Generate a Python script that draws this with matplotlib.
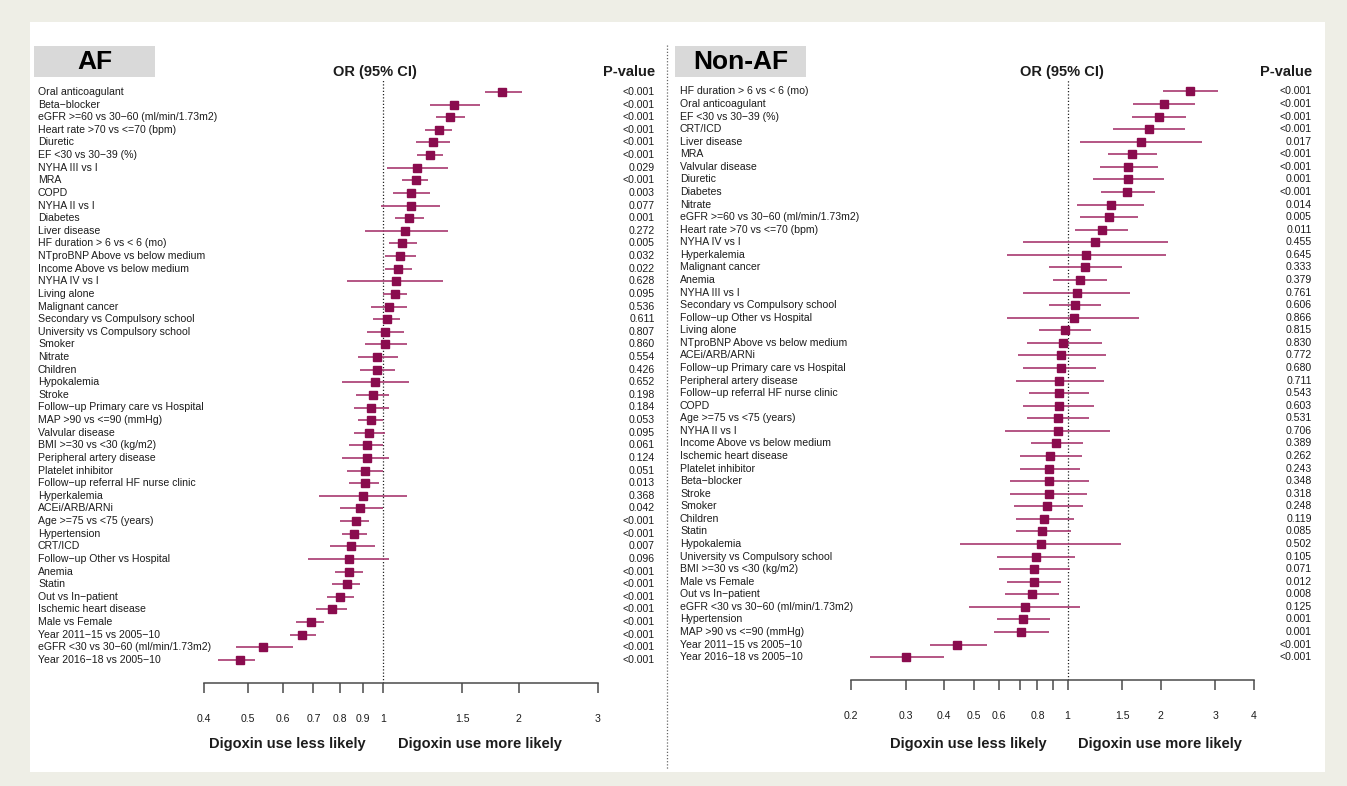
import matplotlib
matplotlib.use('Agg')
import matplotlib.pyplot as plt
import matplotlib.transforms as mtransforms
from matplotlib.patches import Rectangle
from matplotlib.lines import Line2D
from matplotlib import ticker

plt.rcParams['font.family'] = ['Liberation Sans', 'DejaVu Sans']

# ---------------- data: AF ----------------
af_labels = [
    "Oral anticoagulant", "Beta\u2212blocker", "eGFR >=60 vs 30\u221260 (ml/min/1.73m2)",
    "Heart rate >70 vs <=70 (bpm)", "Diuretic", "EF <30 vs 30\u221239 (%)", "NYHA III vs I",
    "MRA", "COPD", "NYHA II vs I", "Diabetes", "Liver disease", "HF duration > 6 vs < 6 (mo)",
    "NTproBNP Above vs below medium", "Income Above vs below medium", "NYHA IV vs I",
    "Living alone", "Malignant cancer", "Secondary vs Compulsory school",
    "University vs Compulsory school", "Smoker", "Nitrate", "Children", "Hypokalemia",
    "Stroke", "Follow\u2212up Primary care vs Hospital", "MAP >90 vs <=90 (mmHg)",
    "Valvular disease", "BMI >=30 vs <30 (kg/m2)", "Peripheral artery disease",
    "Platelet inhibitor", "Follow\u2212up referral HF nurse clinic", "Hyperkalemia",
    "ACEi/ARB/ARNi", "Age >=75 vs <75 (years)", "Hypertension", "CRT/ICD",
    "Follow\u2212up Other vs Hospital", "Anemia", "Statin", "Out vs In\u2212patient",
    "Ischemic heart disease", "Male vs Female", "Year 2011\u221215 vs 2005\u221210",
    "eGFR <30 vs 30\u221260 (ml/min/1.73m2)", "Year 2016\u221218 vs 2005\u221210",
]
af_or = [1.84, 1.44, 1.41, 1.33, 1.29, 1.27, 1.19, 1.18, 1.15, 1.15, 1.14, 1.12, 1.10,
         1.09, 1.08, 1.07, 1.06, 1.03, 1.02, 1.01, 1.01, 0.97, 0.97, 0.96, 0.95, 0.94,
         0.94, 0.93, 0.92, 0.92, 0.91, 0.91, 0.90, 0.89, 0.87, 0.86, 0.85, 0.84, 0.84,
         0.83, 0.80, 0.77, 0.69, 0.66, 0.54, 0.48]
af_lo = [1.68, 1.27, 1.31, 1.24, 1.18, 1.19, 1.02, 1.10, 1.05, 0.99, 1.06, 0.91, 1.03,
         1.01, 1.01, 0.83, 1.00, 0.94, 0.95, 0.92, 0.91, 0.88, 0.89, 0.81, 0.87, 0.86,
         0.88, 0.86, 0.84, 0.81, 0.83, 0.84, 0.72, 0.80, 0.80, 0.81, 0.76, 0.68, 0.78,
         0.77, 0.75, 0.71, 0.64, 0.62, 0.47, 0.43]
af_hi = [2.03, 1.64, 1.52, 1.42, 1.41, 1.36, 1.39, 1.26, 1.27, 1.34, 1.23, 1.39, 1.19,
         1.18, 1.16, 1.36, 1.13, 1.13, 1.09, 1.11, 1.13, 1.08, 1.06, 1.14, 1.03, 1.03,
         1.00, 1.01, 1.00, 1.03, 1.00, 0.98, 1.13, 1.00, 0.93, 0.92, 0.96, 1.03, 0.90,
         0.89, 0.86, 0.83, 0.74, 0.71, 0.63, 0.52]
af_p = ["<0.001", "<0.001", "<0.001", "<0.001", "<0.001", "<0.001", "0.029", "<0.001",
        "0.003", "0.077", "0.001", "0.272", "0.005", "0.032", "0.022", "0.628", "0.095",
        "0.536", "0.611", "0.807", "0.860", "0.554", "0.426", "0.652", "0.198", "0.184",
        "0.053", "0.095", "0.061", "0.124", "0.051", "0.013", "0.368", "0.042", "<0.001",
        "<0.001", "0.007", "0.096", "<0.001", "<0.001", "<0.001", "<0.001", "<0.001",
        "<0.001", "<0.001", "<0.001"]
af_ticks = [0.4, 0.5, 0.6, 0.7, 0.8, 0.9, 1, 1.5, 2, 3]
af_ticklabels = ["0.4", "0.5", "0.6", "0.7", "0.8", "0.9", "1", "1.5", "2", "3"]

# ---------------- data: Non-AF ----------------
naf_labels = [
    "HF duration > 6 vs < 6 (mo)", "Oral anticoagulant", "EF <30 vs 30\u221239 (%)", "CRT/ICD",
    "Liver disease", "MRA", "Valvular disease", "Diuretic", "Diabetes", "Nitrate",
    "eGFR >=60 vs 30\u221260 (ml/min/1.73m2)", "Heart rate >70 vs <=70 (bpm)", "NYHA IV vs I",
    "Hyperkalemia", "Malignant cancer", "Anemia", "NYHA III vs I",
    "Secondary vs Compulsory school", "Follow\u2212up Other vs Hospital", "Living alone",
    "NTproBNP Above vs below medium", "ACEi/ARB/ARNi", "Follow\u2212up Primary care vs Hospital",
    "Peripheral artery disease", "Follow\u2212up referral HF nurse clinic", "COPD",
    "Age >=75 vs <75 (years)", "NYHA II vs I", "Income Above vs below medium",
    "Ischemic heart disease", "Platelet inhibitor", "Beta\u2212blocker", "Stroke", "Smoker",
    "Children", "Statin", "Hypokalemia", "University vs Compulsory school",
    "BMI >=30 vs <30 (kg/m2)", "Male vs Female", "Out vs In\u2212patient",
    "eGFR <30 vs 30\u221260 (ml/min/1.73m2)", "Hypertension", "MAP >90 vs <=90 (mmHg)",
    "Year 2011\u221215 vs 2005\u221210", "Year 2016\u221218 vs 2005\u221210",
]
naf_or = [2.48, 2.05, 1.97, 1.83, 1.73, 1.61, 1.57, 1.57, 1.56, 1.38, 1.36, 1.29, 1.23,
          1.15, 1.14, 1.10, 1.07, 1.06, 1.05, 0.98, 0.97, 0.95, 0.95, 0.94, 0.94, 0.94,
          0.93, 0.93, 0.92, 0.88, 0.87, 0.87, 0.87, 0.86, 0.84, 0.83, 0.82, 0.79, 0.78,
          0.78, 0.77, 0.73, 0.72, 0.71, 0.44, 0.30]
naf_lo = [2.03, 1.63, 1.61, 1.40, 1.10, 1.35, 1.27, 1.21, 1.28, 1.07, 1.10, 1.06, 0.72,
          0.64, 0.87, 0.90, 0.72, 0.87, 0.64, 0.81, 0.74, 0.69, 0.72, 0.68, 0.75, 0.72,
          0.74, 0.63, 0.76, 0.70, 0.70, 0.65, 0.65, 0.67, 0.68, 0.68, 0.45, 0.59, 0.60,
          0.64, 0.63, 0.48, 0.59, 0.58, 0.36, 0.23]
naf_hi = [3.05, 2.58, 2.42, 2.39, 2.72, 1.95, 1.96, 2.05, 1.92, 1.77, 1.69, 1.57, 2.11,
          2.08, 1.50, 1.34, 1.59, 1.28, 1.70, 1.19, 1.29, 1.33, 1.24, 1.31, 1.17, 1.22,
          1.17, 1.37, 1.12, 1.11, 1.10, 1.17, 1.16, 1.12, 1.05, 1.03, 1.49, 1.06, 1.02,
          0.95, 0.94, 1.10, 0.88, 0.87, 0.55, 0.40]
naf_p = ["<0.001", "<0.001", "<0.001", "<0.001", "0.017", "<0.001", "<0.001", "0.001",
         "<0.001", "0.014", "0.005", "0.011", "0.455", "0.645", "0.333", "0.379", "0.761",
         "0.606", "0.866", "0.815", "0.830", "0.772", "0.680", "0.711", "0.543", "0.603",
         "0.531", "0.706", "0.389", "0.262", "0.243", "0.348", "0.318", "0.248", "0.119",
         "0.085", "0.502", "0.105", "0.071", "0.012", "0.008", "0.125", "0.001", "0.001",
         "<0.001", "<0.001"]
naf_ticks = [0.2, 0.3, 0.4, 0.5, 0.6, 0.7, 0.8, 0.9, 1, 1.5, 2, 3, 4]
naf_ticklabels = ["0.2", "0.3", "0.4", "0.5", "0.6", "", "0.8", "", "1", "1.5", "2", "3", "4"]

# ---------------- styling ----------------
W, H = 1347, 786
SQ_C = '#8a0c4e'
LN_C = '#a8386f'
TXT_C = '#1c1c1c'
AX_C = '#4a4a4a'
LAB_FS = 7.6

fig = plt.figure(figsize=(W / 100, H / 100), dpi=100)
fig.patch.set_facecolor('#eeeee6')
fig.add_artist(Rectangle((30 / W, 1 - 772 / H), (1325 - 30) / W, (772 - 22) / H,
                         transform=fig.transFigure, facecolor='white', edgecolor='none', zorder=0))
fig.add_artist(Line2D([667 / W, 667 / W], [1 - 45 / H, 1 - 770 / H], transform=fig.transFigure,
                      color='#666666', lw=0.9, ls=(0, (1, 1.5))))


def fx(x):
    return x / W


def fy(y):
    return 1 - y / H


def panel(labels, orv, lo, hi, pv, x0, x1, axis_y, row0, dy, xlim, ticks, ticklabels,
          label_x, p_x, or_x, title, box, less_x, more_x):
    top = 80
    ax = fig.add_axes([fx(x0), fy(axis_y), (x1 - x0) / W, (axis_y - top) / H])
    ax.set_xscale('log')
    ax.set_xlim(*xlim)
    n = len(labels)
    ax.set_ylim((axis_y - row0) / dy, (top - row0) / dy)
    ys = list(range(n))
    ax.hlines(ys, lo, hi, color=LN_C, lw=1.2, clip_on=False, zorder=2)
    ax.plot(orv, ys, 's', ms=5.4, color=SQ_C, clip_on=False, zorder=3)
    ax.axvline(1, ls=(0, (1, 1.6)), color='#222222', lw=0.9, zorder=1)
    for s in ['top', 'left', 'right']:
        ax.spines[s].set_visible(False)
    ax.spines['bottom'].set_color(AX_C)
    ax.spines['bottom'].set_linewidth(1.1)
    ax.set_xticks(ticks)
    ax.set_xticklabels(ticklabels)
    ax.xaxis.set_minor_locator(ticker.NullLocator())
    ax.tick_params(axis='x', length=7, width=1.1, color=AX_C, pad=15, labelsize=7.6,
                   labelcolor=TXT_C)
    ax.set_yticks([])
    ax.patch.set_alpha(0)
    trans = mtransforms.blended_transform_factory(fig.transFigure, ax.transData)
    for i, (lab, p) in enumerate(zip(labels, pv)):
        ax.text(fx(label_x), i, lab, transform=trans, ha='left', va='center',
                fontsize=LAB_FS, color=TXT_C, clip_on=False)
        ax.text(fx(p_x), i, p, transform=trans, ha='right', va='center',
                fontsize=LAB_FS, color=TXT_C, clip_on=False)
    # headers
    fig.text(fx(or_x), fy(72), "OR (95% CI)", ha='center', va='center', fontsize=10.5,
             fontweight='bold', color=TXT_C)
    fig.text(fx(p_x), fy(72), "P-value", ha='right', va='center', fontsize=10.5,
             fontweight='bold', color=TXT_C)
    bx0, by0, bx1, by1 = box
    fig.add_artist(Rectangle((fx(bx0), fy(by1)), (bx1 - bx0) / W, (by1 - by0) / H,
                             transform=fig.transFigure, facecolor='#d9d9d9', edgecolor='none'))
    fig.text(fx((bx0 + bx1) / 2), fy((by0 + by1) / 2 + 0.5), title, ha='center', va='center',
             fontsize=19, fontweight='bold', color='black')
    fig.text(fx(less_x), fy(744), "Digoxin use less likely", ha='center', va='center',
             fontsize=10.5, fontweight='bold', color=TXT_C)
    fig.text(fx(more_x), fy(744), "Digoxin use more likely", ha='center', va='center',
             fontsize=10.5, fontweight='bold', color=TXT_C)
    return ax


panel(af_labels, af_or, af_lo, af_hi, af_p, 204, 598, 683, 92, 12.62, (0.4, 3),
      af_ticks, af_ticklabels, 38, 655, 375, "AF", (34, 46, 155, 77), 287, 480)
panel(naf_labels, naf_or, naf_lo, naf_hi, naf_p, 851, 1254, 680, 91.5, 12.57, (0.2, 4),
      naf_ticks, naf_ticklabels, 680, 1312, 1062, "Non-AF", (675, 46, 806, 77), 968, 1160)

fig.savefig('out.png', dpi=100, facecolor=fig.get_facecolor())
